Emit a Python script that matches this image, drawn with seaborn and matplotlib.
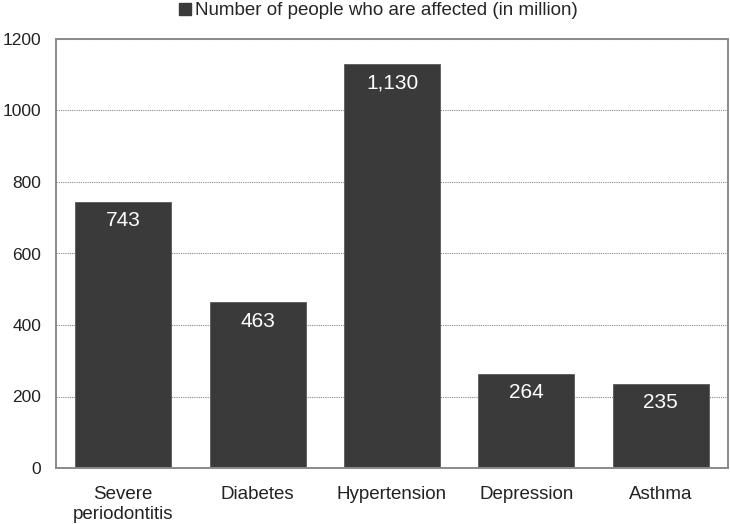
import matplotlib
matplotlib.use("Agg")
import matplotlib.pyplot as plt
import seaborn as sns
import pandas as pd
from matplotlib.patches import Patch

categories = ["Severe\nperiodontitis", "Diabetes", "Hypertension", "Depression", "Asthma"]
values = [743, 463, 1130, 264, 235]
value_labels = ["743", "463", "1,130", "264", "235"]
series_name = "Number of people who are affected (in million)"
yticks = [0, 200, 400, 600, 800, 1000, 1200]

sns.set_theme(style="white")
plt.rcParams['font.family'] = ['Liberation Sans', 'DejaVu Sans']

df = pd.DataFrame({"cat": categories, "val": values})

fig = plt.figure(figsize=(7.3, 5.24), dpi=100)
ax = fig.add_axes([56/730, 1 - 468/524, 672/730, 429/524])

bar_color = "#3a3a3a"
sns.barplot(data=df, x="cat", y="val", color=bar_color, width=0.715,
            saturation=1, ax=ax, edgecolor="#5a5a5a", linewidth=0.6)

ax.set_xlim(-0.5, 4.5)
ax.set_ylim(0, 1200)
ax.set_yticks(yticks)
ax.set_yticklabels([str(t) for t in yticks], fontsize=12.5, color="#222222")
ax.tick_params(axis="x", labelsize=13.5, colors="#222222", length=0, pad=13)
ax.tick_params(axis="y", length=0, pad=10.5)
for t in ax.get_xticklabels():
    t.set_linespacing(1.2)
ax.set_xlabel("")
ax.set_ylabel("")

ax.grid(axis="y", linestyle=(0, (1, 1)), color="#888888", linewidth=0.8)
ax.set_axisbelow(True)
for s in ax.spines.values():
    s.set_color("#8a8a8a")
    s.set_linewidth(1.4)
    s.set_visible(True)

for i, (v, lab) in enumerate(zip(values, value_labels)):
    ax.annotate(lab, (i, v), xytext=(0, -6.5), textcoords="offset points",
                ha="center", va="top", color="white", fontsize=15)

handle = Patch(facecolor=bar_color, edgecolor=bar_color)
fig.legend([handle], [series_name], loc="upper center", bbox_to_anchor=(0.518, 0.999),
           frameon=False, fontsize=13.5, handlelength=0.64, handleheight=0.64,
           handletextpad=0.2, borderaxespad=0.0, borderpad=0.1)

fig.savefig("out.png", dpi=100)
